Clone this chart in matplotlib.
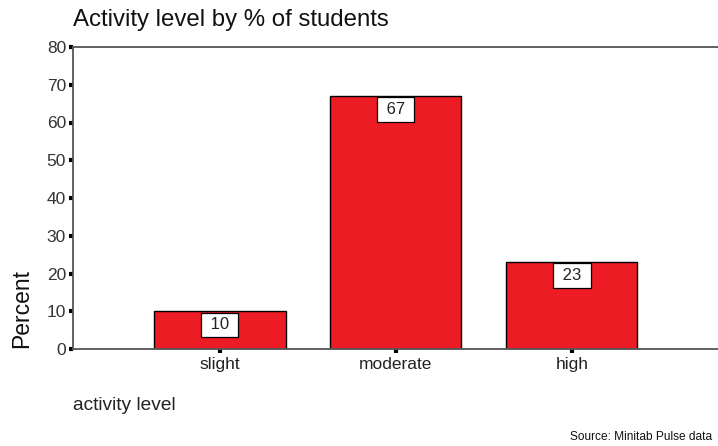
import matplotlib
matplotlib.use('Agg')
import matplotlib.pyplot as plt

levels = ['slight', 'moderate', 'high']
percent = [10, 67, 23]
yticks = [0, 10, 20, 30, 40, 50, 60, 70, 80]

plt.rcParams['font.family'] = ['Liberation Sans', 'DejaVu Sans']

fig = plt.figure(figsize=(7.18, 4.46), dpi=100)
W, H = 718, 446
ax = fig.add_axes([73 / W, (H - 349) / H, 1 - 73 / W, (349 - 47) / H])

pos = list(range(len(levels)))
ax.bar(pos, percent, width=0.745, color='#ED1C24', edgecolor='black', linewidth=1.0, zorder=2)

# value boxes hang just under the top edge of each bar
for x, v in zip(pos, percent):
    ax.annotate(' %d ' % v, (x, v), xytext=(0, -4.3), textcoords='offset points',
                ha='center', va='top', fontsize=12, color='#222222', zorder=3,
                bbox=dict(boxstyle='square,pad=0.28', fc='white', ec='black', lw=0.9))

ax.set_xlim(-0.835, 2.83)
ax.set_ylim(0, 80)
ax.set_xticks(pos)
ax.set_xticklabels(levels, fontsize=12.5, color='#222222')
ax.set_yticks(yticks)
ax.set_yticklabels([str(t) for t in yticks], fontsize=12.5, color='#333333')
ax.tick_params(axis='both', length=3, width=3, color='black', pad=2)
ax.tick_params(axis='x', pad=3)

for s in ['left', 'bottom', 'top']:
    ax.spines[s].set_color('#555555')
    ax.spines[s].set_linewidth(1.3)
ax.spines['right'].set_visible(False)

fig.text(73 / W, 1 - 20 / H, 'Activity level by % of students', fontsize=17.3,
         ha='left', va='center', color='#111111')
fig.text(22 / W, 1 - 308 / H, 'Percent', fontsize=16.5, rotation=90,
         ha='center', va='center', color='#111111')
fig.text(73 / W, 1 - 406 / H, 'activity level', fontsize=13.8,
         ha='left', va='center', color='#222222')
fig.text(712 / W, 1 - 437 / H, 'Source: Minitab Pulse data', fontsize=8.6,
         ha='right', va='center', color='#111111')

fig.savefig('out.png', dpi=100)
